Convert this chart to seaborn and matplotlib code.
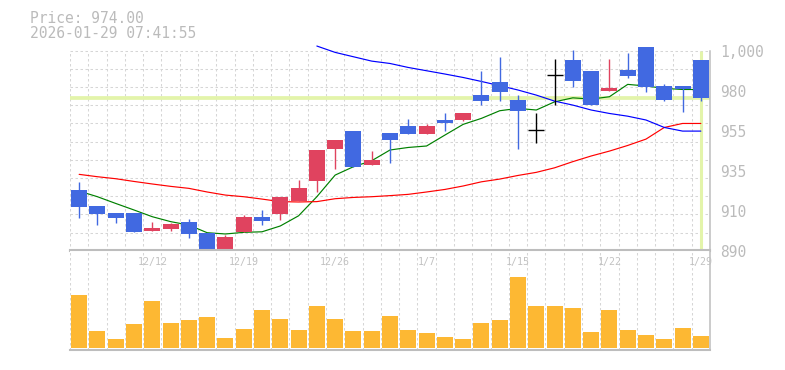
import numpy as np
import pandas as pd
import matplotlib
matplotlib.use("Agg")
import matplotlib.pyplot as plt
import seaborn as sns

# daily candles, 12/8 .. 1/29
dates = ["12/8", "12/9", "12/10", "12/11", "12/12", "12/15", "12/16", "12/17", "12/18", "12/19",
         "12/22", "12/23", "12/24", "12/25", "12/26", "12/29", "12/30", "1/5", "1/6", "1/7",
         "1/8", "1/9", "1/13", "1/14", "1/15", "1/16", "1/19", "1/20", "1/21", "1/22",
         "1/23", "1/26", "1/27", "1/28", "1/29"]
opens = [923.4, 914.6, 910.7, 910.7, 901.0, 902.1, 905.8, 899.7, 888.0, 900.3,
         908.5, 910.3, 917.5, 928.5, 946.1, 956.0, 937.1, 954.7, 958.6, 954.4,
         961.9, 961.9, 975.6, 982.8, 972.9, 956.2, 986.6, 994.9, 988.8, 978.0,
         989.4, 1002.0, 980.6, 980.6, 994.9]
highs = [927.6, 914.6, 910.7, 910.7, 906.0, 905.4, 907.4, 899.7, 898.6, 909.6,
         912.4, 919.5, 928.9, 945.4, 951.1, 956.0, 944.8, 954.7, 962.4, 959.7,
         965.7, 965.7, 988.8, 996.5, 975.6, 965.7, 995.4, 1000.4, 988.8, 995.4,
         998.7, 1002.0, 981.8, 980.6, 994.9]
lows = [908.1, 904.1, 905.4, 900.3, 901.0, 901.0, 897.0, 888.5, 887.5, 900.3,
        904.1, 906.9, 917.5, 922.5, 935.1, 936.0, 937.1, 938.4, 954.4, 954.4,
        956.0, 961.3, 970.3, 972.3, 946.1, 949.4, 970.3, 980.2, 970.3, 978.0,
        985.2, 977.5, 972.3, 966.5, 972.3]
closes = [914.2, 910.3, 908.1, 900.3, 902.5, 904.7, 899.4, 889.0, 897.5, 908.5,
          906.3, 919.5, 924.5, 945.4, 951.1, 936.0, 939.9, 951.1, 954.4, 958.6,
          960.4, 965.7, 972.3, 977.5, 967.0, 956.2, 986.6, 983.5, 970.3, 979.5,
          986.3, 980.2, 973.0, 978.7, 974.0]
volumes = [15900, 5100, 2700, 7200, 14100, 7500, 8400, 9300, 3000, 5700,
           11400, 8700, 5400, 12600, 8700, 5100, 5100, 9600, 5400, 4500,
           3300, 2700, 7500, 8400, 21300, 12600, 12600, 12000, 4800, 11400,
           5400, 3900, 2700, 6000, 3600]

# moving averages
ma_short = [922.8, 919.7, 916.0, 912.4, 908.7, 906.0, 904.1, 899.9, 899.2, 900.1,
            900.4, 903.6, 909.2, 919.7, 931.6, 936.2, 939.5, 945.4, 946.8, 947.6,
            953.6, 959.5, 962.8, 967.0, 968.3, 967.4, 971.9, 974.1, 973.4, 974.7,
            981.5, 980.6, 979.3, 978.7, 978.7]
ma_mid = [932.0, 930.7, 929.6, 928.1, 926.7, 925.4, 924.3, 922.3, 920.6, 919.7,
          918.4, 917.0, 916.8, 917.0, 918.6, 919.3, 919.7, 920.3, 921.0, 922.3,
          923.7, 925.6, 927.9, 929.4, 931.4, 933.1, 935.6, 939.0, 942.1, 944.8,
          947.9, 951.4, 957.8, 960.0, 960.0]
ma_long = [np.nan] * 13 + [1002.6, 999.1, 996.7, 994.3, 993.0, 990.8, 989.0,
                           987.2, 985.3, 983.1, 980.8, 978.4, 975.6, 972.3, 970.1, 967.4, 965.5,
                           964.0, 961.9, 957.8, 955.8, 955.8]

price_now = 974.00
stamp = "2026-01-29 07:41:55"
date_labels = ["12/12", "12/19", "12/26", "1/7", "1/15", "1/22", "1/29"]
y_ticks = [890, 912, 934, 956, 978, 1000]
y_labels = ["890", "910", "935", "955", "980", "1,000"]

df = pd.DataFrame({"i": np.arange(len(dates)), "date": dates, "open": opens, "high": highs,
                   "low": lows, "close": closes, "volume": volumes,
                   "ma5": ma_short, "ma25": ma_mid, "ma75": ma_long})

sns.set_style("white")
plt.rcParams["font.family"] = ["DejaVu Sans Mono"]

UP, DOWN = "#e0435f", "#4169e1"
GRID = "#d6d6d6"
AXIS = "#bdbdbd"
TXT = "#bbbbbb"
HL = "#e3f4aa"

fig = plt.figure(figsize=(7.85, 3.70), dpi=100)
ax = fig.add_axes([70 / 785, 119.3 / 370, 640 / 785, 205.4 / 370])
axv = fig.add_axes([70 / 785, 19.7 / 370, 640 / 785, 100 / 370])

n = len(df)
# ---- price panel
ax.set_xlim(-0.5, n - 0.5)
ax.set_ylim(890, 1003)
ax.vlines(np.arange(-0.5, n - 0.5, 1), 890, 1000, colors=GRID, lw=0.75,
          linestyles=(0, (2.4, 2.4)), zorder=0)
ax.hlines(np.arange(900, 1001, 10), -0.5, n - 0.5, colors=GRID, lw=0.75,
          linestyles=(0, (2.4, 2.4)), zorder=0)
ax.axhline(price_now, color=HL, lw=2.7, zorder=1)
ax.vlines(n - 1, 891, 1000, colors=HL, lw=2.2, zorder=1)

sns.lineplot(data=df, x="i", y="ma5", ax=ax, color="#008000", lw=0.85, zorder=2)
sns.lineplot(data=df, x="i", y="ma25", ax=ax, color="#ff0000", lw=0.85, zorder=2)
sns.lineplot(data=df.dropna(), x="i", y="ma75", ax=ax, color="#0000ff", lw=0.85, zorder=2)

w = 0.87
for _, r in df.iterrows():
    if r["close"] > r["open"]:
        col = UP
    elif r["close"] < r["open"]:
        col = DOWN
    else:
        col = "black"
    ax.vlines(r["i"], r["low"], r["high"], colors=col, lw=1.0, zorder=3)
    if col == "black":
        ax.hlines(r["close"], r["i"] - w / 2, r["i"] + w / 2, colors=col, lw=1.0, zorder=3)
    else:
        lo = min(r["open"], r["close"])
        ax.bar(r["i"], abs(r["close"] - r["open"]), bottom=lo, width=w, color=col,
               linewidth=0, zorder=4)

ax.set_yticks(y_ticks)
ax.set_yticklabels(y_labels)
ax.yaxis.tick_right()
ax.tick_params(axis="y", length=0, pad=7.5, labelsize=10.5, labelcolor=TXT)
ax.set_xticks([])
ax.set_xlabel("")
ax.set_ylabel("")
for s in ["top", "left"]:
    ax.spines[s].set_visible(False)
ax.spines["right"].set_bounds(890, 1000)
ax.spines["right"].set_color(AXIS)
ax.spines["bottom"].set_color(AXIS)
ax.spines["right"].set_linewidth(1.1)
ax.spines["bottom"].set_linewidth(1.5)
ax.patch.set_alpha(0)

# ---- volume panel
sns.barplot(data=df, x="i", y="volume", ax=axv, color="#fdb833", width=w,
            saturation=1, linewidth=0)
axv.set_xlim(-0.5, n - 0.5)
axv.set_ylim(-700, 29300)
axv.vlines(np.arange(-0.5, n - 0.5, 1), -700, 29300, colors=GRID, lw=0.75,
           linestyles=(0, (2.4, 2.4)), zorder=0)
axv.set_xticks([])
axv.set_yticks([])
axv.set_xlabel("")
axv.set_ylabel("")
for d in date_labels:
    k = dates.index(d)
    axv.text(k, 0.886, d, transform=axv.get_xaxis_transform(), ha="center", va="center",
             fontsize=7.2, color="#c2c2c2")
axv.spines["left"].set_visible(False)
for s in ["top", "bottom", "right"]:
    axv.spines[s].set_color(AXIS)
    axv.spines[s].set_linewidth(1.5 if s != "right" else 1.1)

fig.text(30 / 785, 1 - 18.3 / 370, f"Price: {price_now:.2f}", fontsize=10.5, color=TXT, va="center")
fig.text(30 / 785, 1 - 33.3 / 370, stamp, fontsize=10.5, color=TXT, va="center")

fig.savefig("out.png", dpi=100)
